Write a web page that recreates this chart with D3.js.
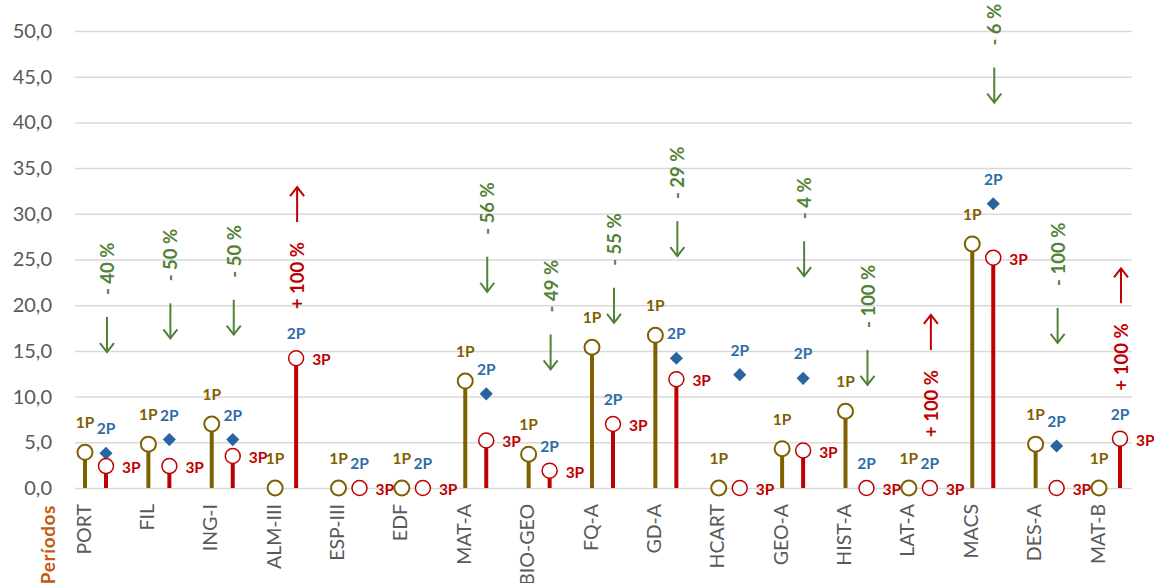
<!DOCTYPE html>
<html><head><meta charset="utf-8">
<script src="https://cdn.jsdelivr.net/npm/d3@7"></script>
<style>
html,body{margin:0;padding:0;background:#fff;}
svg{display:block;font-family:Lato,"Open Sans",sans-serif;}
</style></head>
<body><svg id="chart" width="1154" height="583"></svg>
<script>
const categories = ["PORT","FIL","ING-I","ALM-III","ESP-III","EDF","MAT-A","BIO-GEO","FQ-A","GD-A","HCART","GEO-A","HIST-A","LAT-A","MACS","DES-A","MAT-B"];
const p1 = [3.9, 4.8, 7.0, 0, 0, 0, 11.7, 3.7, 15.4, 16.7, 0, 4.3, 8.4, 0, 26.7, 4.8, 0];
const p2 = [3.8, 5.3, 5.3, 14.2, 0, 0, 10.3, 1.9, 7.0, 14.2, 12.4, 12.0, 0, 0, 31.1, 4.6, 5.4];
const p3 = [2.4, 2.4, 3.5, 14.2, 0, 0, 5.2, 1.9, 7.0, 11.9, 0, 4.1, 0, 0, 25.2, 0, 5.4];
const changeLabels = ["- 40 %","- 50 %","- 50 %","+ 100 %","","","- 56 %","- 49 %","- 55 %","- 29 %","","- 4 %","- 100 %","+ 100 %","- 6 %","- 100 %","+ 100 %"];
const changeAnchor = [18.7, 20.2, 20.6, 29.1, null, null, 25.3, 16.8, 21.9, 29.2, null, 27.0, 15.1, 15.1, 46.0, 19.7, 20.2];
const yTicks = [0,5,10,15,20,25,30,35,40,45,50];
const axisTitle = "Períodos";

const C1 = "#7F6000", C2 = "#2A64A0", C2L = "#2E6DA8", C3 = "#C00000", CG = "#538135";
const svg = d3.select("#chart");
const x = d3.scalePoint().domain(categories).range([85, 1099]);
const off = 21;
const y = d3.scaleLinear().domain([0, 50]).range([488, 31]);
const gridL = 75, gridR = 1132;
const loc = d3.formatLocale({decimal: ",", thousands: ".", grouping: [3], currency: ["", "€"]});
const fmt = loc.format(".1f");

// gridlines
const grid = svg.append("g").attr("transform", `translate(${gridL},0)`)
  .call(d3.axisLeft(y).tickValues(yTicks).tickSize(-(gridR - gridL)).tickFormat(""));
grid.select(".domain").remove();
grid.selectAll("line").attr("stroke", "#D9D9D9").attr("stroke-width", 1.5);

// y axis labels
const ya = svg.append("g").attr("transform", `translate(52,0)`)
  .call(d3.axisLeft(y).tickValues(yTicks).tickSize(0).tickPadding(0).tickFormat(fmt));
ya.select(".domain").remove();
ya.selectAll("text").attr("fill", "#595959").style("font-size", "20px").style("font-family", "Lato, sans-serif");

// category labels
svg.append("g").selectAll("text").data(categories).join("text")
  .attr("transform", d => `translate(${x(d) - 2},504) rotate(-90)`)
  .attr("text-anchor", "end").attr("dominant-baseline", "central")
  .attr("fill", "#595959").style("font-size", "19.5px").text(d => d);

// axis title
svg.append("text").attr("transform", "translate(47,505) rotate(-90)")
  .attr("text-anchor", "end").attr("dominant-baseline", "central")
  .attr("fill", "#C55A11").style("font-size", "19px").style("letter-spacing", "0.6px")
  .style("font-weight", "bold").text(axisTitle);

const idx = d3.range(categories.length);
// 1P stems and circles
svg.append("g").selectAll("line").data(idx).join("line")
  .attr("x1", i => x(categories[i])).attr("x2", i => x(categories[i]))
  .attr("y1", y(0)).attr("y2", i => y(p1[i]))
  .attr("stroke", C1).attr("stroke-width", 4);
svg.append("g").selectAll("circle").data(idx).join("circle")
  .attr("cx", i => x(categories[i])).attr("cy", i => y(p1[i])).attr("r", 7.5)
  .attr("fill", "#fff").attr("stroke", C1).attr("stroke-width", 2);
// 2P diamonds
svg.append("g").selectAll("path").data(idx).join("path")
  .attr("d", d3.symbol(d3.symbolDiamond2, 110))
  .attr("transform", i => `translate(${x(categories[i]) + off},${y(p2[i])})`)
  .attr("fill", C2);
// 3P stems and circles
svg.append("g").selectAll("line").data(idx).join("line")
  .attr("x1", i => x(categories[i]) + off).attr("x2", i => x(categories[i]) + off)
  .attr("y1", y(0)).attr("y2", i => y(p3[i]))
  .attr("stroke", C3).attr("stroke-width", 4);
svg.append("g").selectAll("circle").data(idx).join("circle")
  .attr("cx", i => x(categories[i]) + off).attr("cy", i => y(p3[i])).attr("r", 7.5)
  .attr("fill", "#fff").attr("stroke", C3).attr("stroke-width", 1.5);

// point labels
const lab = svg.append("g").style("font-size", "15.5px").style("font-weight", "bold");
lab.selectAll("text.l1").data(idx).join("text").attr("class", "l1")
  .attr("x", i => x(categories[i])).attr("y", i => y(p1[i]) - 30)
  .attr("text-anchor", "middle").attr("dominant-baseline", "central").attr("fill", C1).text("1P");
lab.selectAll("text.l2").data(idx).join("text").attr("class", "l2")
  .attr("x", i => x(categories[i]) + off).attr("y", i => y(p2[i]) - 25)
  .attr("text-anchor", "middle").attr("dominant-baseline", "central").attr("fill", C2L).text("2P");
lab.selectAll("text.l3").data(idx).join("text").attr("class", "l3")
  .attr("x", i => x(categories[i]) + off + 16).attr("y", i => y(p3[i]) + 1)
  .attr("text-anchor", "start").attr("dominant-baseline", "central").attr("fill", C3).text("3P");

// change annotations
const ann = svg.append("g");
idx.filter(i => changeLabels[i] !== "").forEach(i => {
  const up = changeLabels[i].startsWith("+");
  const col = up ? C3 : CG;
  const ax = x(categories[i]) + off + 1;
  const a0 = y(changeAnchor[i]);
  const len = 36;
  const g = ann.append("g").attr("stroke", col).attr("stroke-width", 2).attr("fill", "none");
  if (up) {
    const tip = a0 - len;
    g.append("line").attr("x1", ax).attr("x2", ax).attr("y1", a0).attr("y2", tip + 1);
    g.append("path").attr("d", `M${ax - 7},${tip + 10}L${ax},${tip + 1}L${ax + 7},${tip + 10}`);
    ann.append("text").attr("transform", `translate(${ax},${a0 + 20}) rotate(-90)`)
      .attr("text-anchor", "end").attr("dominant-baseline", "central")
      .attr("fill", col).style("font-size", "18.5px").style("font-weight", "bold").text(changeLabels[i]);
  } else {
    const tip = a0 + len;
    g.append("line").attr("x1", ax).attr("x2", ax).attr("y1", a0).attr("y2", tip - 1);
    g.append("path").attr("d", `M${ax - 7},${tip - 10}L${ax},${tip - 1}L${ax + 7},${tip - 10}`);
    ann.append("text").attr("transform", `translate(${ax},${a0 - 22}) rotate(-90)`)
      .attr("text-anchor", "start").attr("dominant-baseline", "central")
      .attr("fill", col).style("font-size", "18.5px").style("font-weight", "bold").text(changeLabels[i]);
  }
});
</script></body></html>
